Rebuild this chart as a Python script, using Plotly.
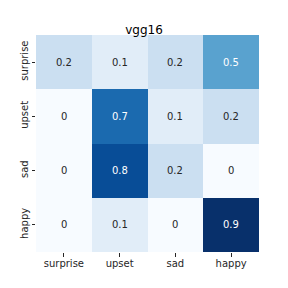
import plotly.graph_objects as go

x_labels = ["surprise", "upset", "sad", "happy"]
y_labels = ["surprise", "upset", "sad", "happy"]
values = [
    [0.2, 0.1, 0.2, 0.5],
    [0.0, 0.7, 0.1, 0.2],
    [0.0, 0.8, 0.2, 0.0],
    [0.0, 0.1, 0.0, 0.9],
]
title = "vgg16"

def fmt(v):
    return "0" if v == 0 else f"{v:g}"

fig = go.Figure(go.Heatmap(
    z=values, x=x_labels, y=y_labels,
    colorscale="Blues", zmin=0, zmax=0.9, showscale=False,
    xgap=0, ygap=0, hoverinfo="skip",
))

annotations = []
for i, row in enumerate(values):
    for j, v in enumerate(row):
        annotations.append(dict(
            x=x_labels[j], y=y_labels[i], text=fmt(v), showarrow=False,
            font=dict(family="DejaVu Sans", size=10,
                      color="white" if v >= 0.45 else "#262626"),
        ))

fig.update_layout(
    width=288, height=288,
    margin=dict(l=36, r=29, t=35, b=36, autoexpand=False),
    paper_bgcolor="white", plot_bgcolor="white",
    font=dict(family="DejaVu Sans", size=10, color="#262626"),
    title=dict(text=title, x=0.5, xanchor="center", y=1 - 30 / 288,
               yanchor="middle", font=dict(size=12, color="black")),
    annotations=annotations,
    xaxis=dict(showgrid=False, zeroline=False, ticks="outside", ticklen=3.5,
               tickcolor="#262626", tickwidth=0.8, showline=False,
               automargin=False, tickfont=dict(size=10), ticklabelstandoff=-2),
    yaxis=dict(showgrid=False, zeroline=False, ticks="outside", ticklen=3.5,
               tickcolor="#262626", tickwidth=0.8, autorange="reversed",
               tickangle=-90, showline=False, automargin=False,
               tickfont=dict(size=10)),
)

fig.write_html("out.html", config={"displayModeBar": False},
               post_script="document.body.style.margin='0';document.body.style.overflow='hidden';")
